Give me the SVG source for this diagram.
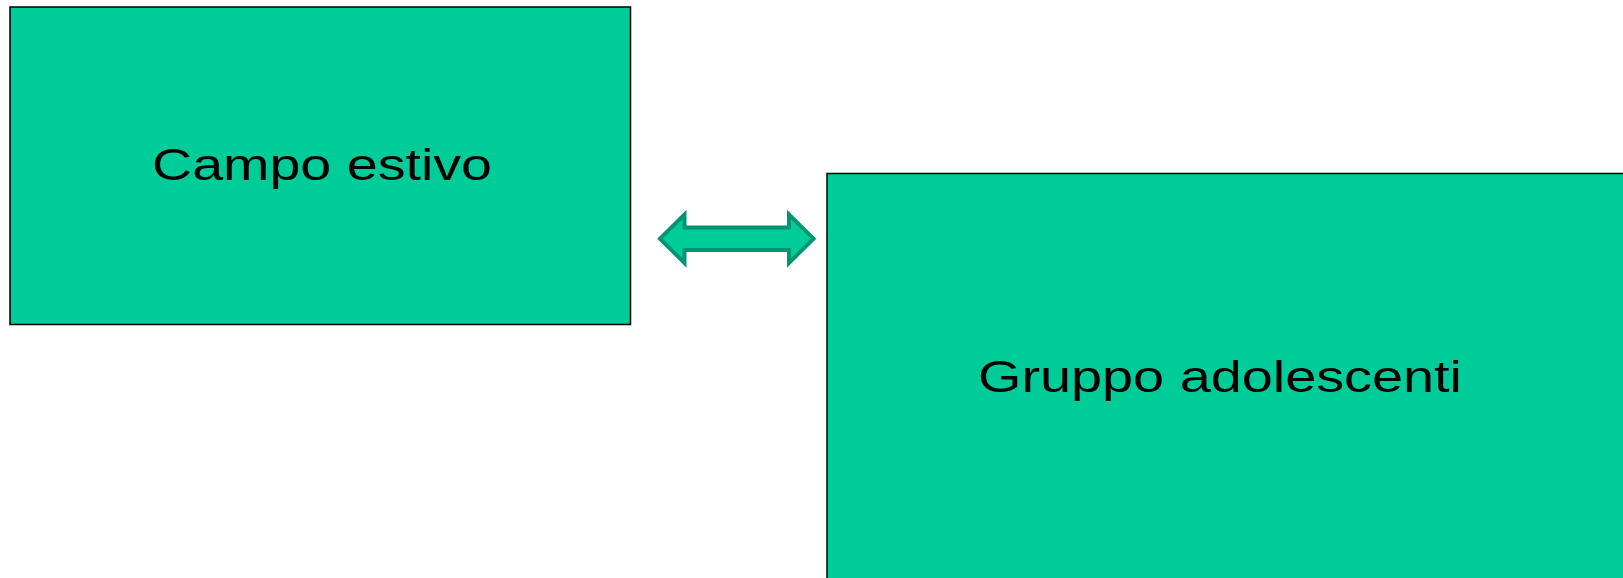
<svg xmlns="http://www.w3.org/2000/svg" width="1623" height="578" viewBox="0 0 1623 578">
<style>
.box{fill:#00CC99;stroke:#000;stroke-width:1.5}
.lbl{font-family:"Liberation Sans",Arial,sans-serif;font-size:44px;fill:#000;text-anchor:middle}
.arr{fill:#00CC99;stroke:#009673;stroke-width:4;stroke-linejoin:miter}
</style>
<rect width="1623" height="578" fill="#fff"/>
<g id="node-campo">
<rect class="box" x="10" y="7" width="620.5" height="317.5"/>
<text class="lbl" x="322" y="180" textLength="340" lengthAdjust="spacingAndGlyphs">Campo estivo</text>
</g>
<g id="node-gruppo">
<rect class="box" x="827" y="173.5" width="820" height="430"/>
<text class="lbl" x="1220" y="392" textLength="484" lengthAdjust="spacingAndGlyphs">Gruppo adolescenti</text>
</g>
<g id="connectors">
<path class="arr" d="M660,238.7 L684.5,214.5 L684.5,227.5 L789,227.5 L789,214.5 L813.5,238.7 L789,263 L789,250 L684.5,250 L684.5,263 Z"/>
</g>
</svg>
